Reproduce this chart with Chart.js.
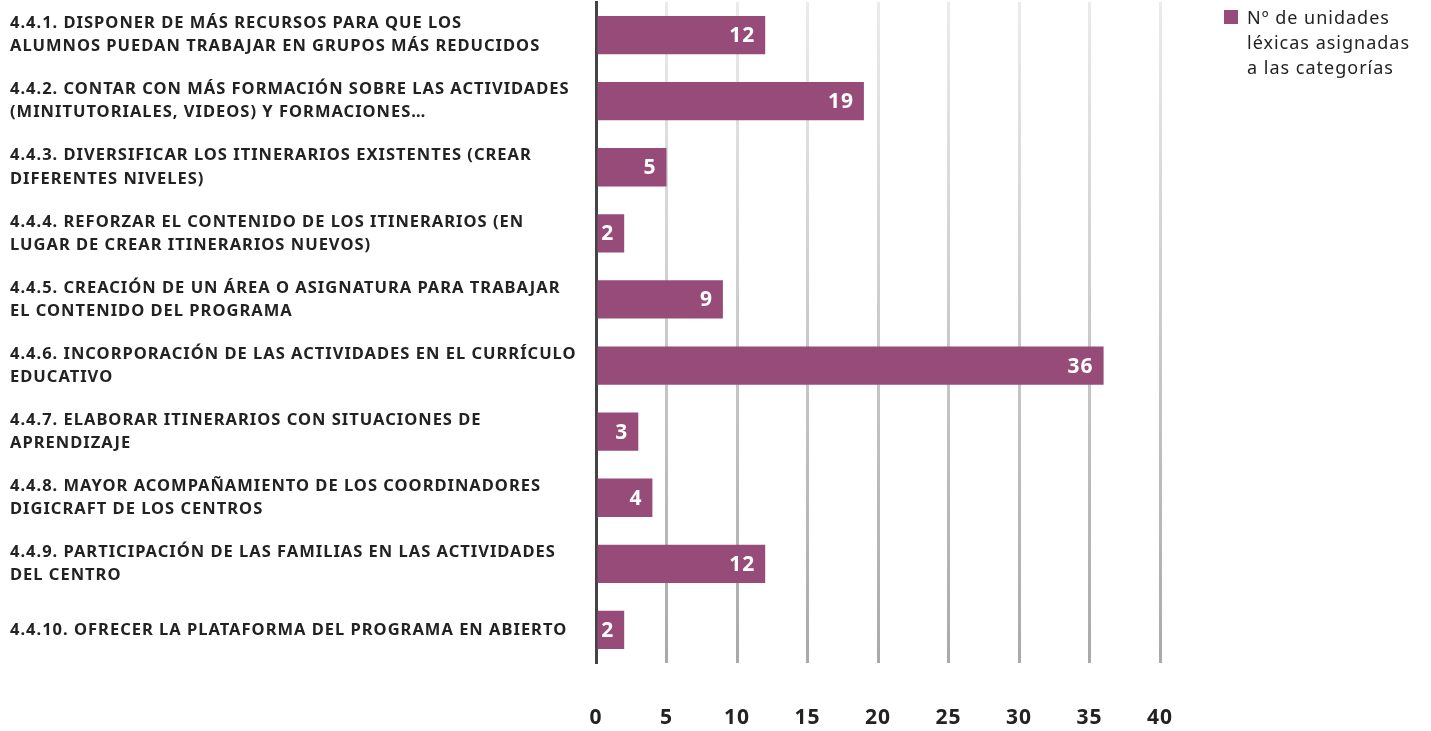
<!DOCTYPE html>
<html>
<head>
<meta charset="utf-8">
<script src="https://cdn.jsdelivr.net/npm/chart.js@4/dist/chart.umd.min.js"></script>
<style>
  body { margin: 0; background: #fff; }
  #wrap { position: relative; width: 1431px; height: 731px; }
  #legend { position: absolute; left: 1224px; top: 5px; font-family: "Noto Sans", sans-serif; font-size: 18px; line-height: 25px; letter-spacing: 1px; color: #222; }
  #legend .box { position: absolute; left: 0; top: 5px; width: 14px; height: 14px; }
  #legend .txt { margin-left: 23px; }
</style>
</head>
<body>
<div id="wrap">
  <canvas id="myChart" width="1431" height="731"></canvas>
  <div id="legend"></div>
</div>
<script>
  //categories (each one split in lines)
  var categories = [
    ["4.4.1. DISPONER DE MÁS RECURSOS PARA QUE LOS", "ALUMNOS PUEDAN TRABAJAR EN GRUPOS MÁS REDUCIDOS"],
    ["4.4.2. CONTAR CON MÁS FORMACIÓN SOBRE LAS ACTIVIDADES", "(MINITUTORIALES, VIDEOS) Y FORMACIONES…"],
    ["4.4.3. DIVERSIFICAR LOS ITINERARIOS EXISTENTES (CREAR", "DIFERENTES NIVELES)"],
    ["4.4.4. REFORZAR EL CONTENIDO DE LOS ITINERARIOS (EN", "LUGAR DE CREAR ITINERARIOS NUEVOS)"],
    ["4.4.5. CREACIÓN DE UN ÁREA O ASIGNATURA PARA TRABAJAR", "EL CONTENIDO DEL PROGRAMA"],
    ["4.4.6. INCORPORACIÓN DE LAS ACTIVIDADES EN EL CURRÍCULO", "EDUCATIVO"],
    ["4.4.7. ELABORAR ITINERARIOS CON SITUACIONES DE", "APRENDIZAJE"],
    ["4.4.8. MAYOR ACOMPAÑAMIENTO DE LOS COORDINADORES", "DIGICRAFT DE LOS CENTROS"],
    ["4.4.9. PARTICIPACIÓN DE LAS FAMILIAS EN LAS ACTIVIDADES", "DEL CENTRO"],
    ["4.4.10. OFRECER LA PLATAFORMA DEL PROGRAMA EN ABIERTO"]
  ];
  var seriesName = "Nº de unidades léxicas asignadas a las categorías";
  var legendLines = ["Nº de unidades", "léxicas asignadas", "a las categorías"];
  var values = [12, 19, 5, 2, 9, 36, 3, 4, 12, 2];
  var xTicks = [0, 5, 10, 15, 20, 25, 30, 35, 40];

  var barColor = "#964b78";

  //letter spacing for all canvas text (canvas state gets reset on resize)
  var spacing = {
    id: 'spacing',
    beforeLayout: function(chart){ chart.ctx.letterSpacing = '1px'; },
    beforeDraw: function(chart){ chart.ctx.letterSpacing = '1px'; }
  };

  //white value labels at the end of each bar
  var valueLabels = {
    id: 'valueLabels',
    afterDatasetsDraw: function(chart){
      var ctx = chart.ctx;
      var meta = chart.getDatasetMeta(0);
      ctx.save();
      ctx.font = "bold 21px 'Noto Sans', sans-serif";
      ctx.fillStyle = "#fff";
      ctx.textBaseline = "middle";
      meta.data.forEach(function(bar, i){
        var txt = String(values[i]);
        var w = ctx.measureText(txt).width;
        var x = bar.x - 10;
        if (x - w < bar.base + 3) {
          ctx.textAlign = "center";
          ctx.fillText(txt, (bar.x + bar.base) / 2 + 1, bar.y + 1);
        } else {
          ctx.textAlign = "right";
          ctx.fillText(txt, x, bar.y + 1);
        }
      });
      ctx.restore();
    }
  };

  var ctx = document.getElementById("myChart");

  var myChart = new Chart(ctx, {
    type: 'bar',
    data: {
      labels: categories,
      datasets: [{
        label: seriesName,
        data: values,
        backgroundColor: barColor,
        borderWidth: 0,
        barPercentage: 0.58,
        categoryPercentage: 1
      }]
    },
    plugins: [spacing, valueLabels],
    options: {
      indexAxis: 'y',
      responsive: false,
      animation: false,
      layout: { padding: { left: 10, top: 2, right: 271, bottom: 0 } },
      plugins: {
        legend: { display: false },
        tooltip: { enabled: false }
      },
      scales: {
        x: {
          min: 0,
          max: 40,
          afterBuildTicks: function(axis){
            axis.ticks = xTicks.map(function(v){ return { value: v }; });
          },
          afterFit: function(axis){ axis.height = 68; },
          border: { display: false },
          grid: {
            drawTicks: false,
            lineWidth: 3,
            color: function(c){
              if (c.tick && c.tick.value === 0) return 'rgba(0,0,0,0)';
              var area = c.chart.chartArea;
              if (!area) return '#ccc';
              var g = c.chart.ctx.createLinearGradient(0, area.top, 0, area.bottom);
              g.addColorStop(0, '#ebebeb');
              g.addColorStop(1, '#a9a9a9');
              return g;
            }
          },
          ticks: {
            padding: 42,
            color: '#222',
            font: { family: "'Noto Sans', sans-serif", size: 21, weight: 'bold' }
          }
        },
        y: {
          afterFit: function(axis){
            axis.width = 586;
            axis.paddingTop = 0;
            axis.paddingBottom = 0;
          },
          border: { display: true, color: '#444', width: 3 },
          grid: { display: false },
          ticks: {
            crossAlign: 'far',
            color: '#222',
            font: { family: "'Noto Sans', sans-serif", size: 16.5, weight: 'bold', lineHeight: 1.4 }
          }
        }
      }
    }
  });

  //legend as html
  var legend = document.getElementById("legend");
  legend.innerHTML = '<div class="box" style="background:' + barColor + '"></div>' +
    '<div class="txt">' + legendLines.join('<br>') + '</div>';
</script>
</body>
</html>
